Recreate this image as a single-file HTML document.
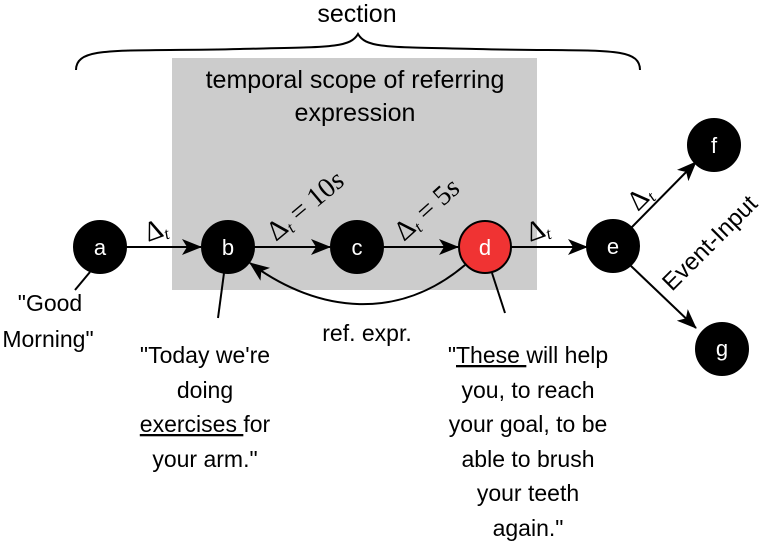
<!DOCTYPE html>
<html><head><meta charset="utf-8"><style>
html,body{margin:0;padding:0;background:#fff;width:769px;height:541px;overflow:hidden}
svg text{font-family:"Liberation Sans",sans-serif}
.m{font-family:"Liberation Serif",serif}
</style></head><body>
<svg width="769" height="541" viewBox="0 0 769 541" xmlns="http://www.w3.org/2000/svg">
<defs>
<marker id="ar" markerWidth="20" markerHeight="16" refX="19" refY="8" orient="auto" markerUnits="userSpaceOnUse" viewBox="0 0 20 16">
<path d="M0,0 L20,8 L0,16 L5,8 z" fill="#000"/></marker>
</defs>
<path d="M172,58 H537 V290 H172 z" fill="#cccccc"/>
<path d="M76,70 C76,45 120,52 240,49 C330,47 350,48 358,34 C366,48 386,47 476,49 C600,52 640,45 640,70" fill="none" stroke="#000" stroke-width="2"/>
<text x="357" y="22" font-size="25" text-anchor="middle">section</text>
<text x="355" y="88" font-size="25" text-anchor="middle">temporal scope of referring</text>
<text x="355" y="121" font-size="25" text-anchor="middle">expression</text>
<g stroke="#000" stroke-width="2.5" fill="none">
<line x1="126" y1="247" x2="201" y2="247" marker-end="url(#ar)" stroke-width="2"/>
<line x1="254" y1="247" x2="330" y2="247" marker-end="url(#ar)" stroke-width="2"/>
<line x1="383" y1="247" x2="458" y2="247" marker-end="url(#ar)" stroke-width="2"/>
<line x1="511" y1="247" x2="587" y2="247" marker-end="url(#ar)" stroke-width="2"/>
<line x1="631" y1="228" x2="696" y2="162" marker-end="url(#ar)" stroke-width="2"/>
<line x1="631" y1="266" x2="696" y2="328" marker-end="url(#ar)" stroke-width="2"/>
<path d="M465,265 C400,320 320,315 250,263" marker-end="url(#ar)" stroke-width="2"/>
<line x1="90" y1="272" x2="75" y2="290" stroke-width="2"/>
<line x1="224" y1="273" x2="218" y2="318" stroke-width="2"/>
<line x1="492" y1="273" x2="505" y2="313" stroke-width="2"/>
</g>
<g stroke="#000" stroke-width="2">
<circle cx="100" cy="247" r="26" fill="#000"/>
<circle cx="228" cy="247" r="26" fill="#000"/>
<circle cx="357" cy="247" r="26" fill="#000"/>
<circle cx="485" cy="247" r="26" fill="#f03333"/>
<circle cx="613" cy="246" r="26" fill="#000"/>
<circle cx="714" cy="145" r="26" fill="#000"/>
<circle cx="722" cy="349" r="26" fill="#000"/>
</g>
<g fill="#fff" font-size="22" text-anchor="middle">
<text x="100" y="255">a</text><text x="228" y="255">b</text><text x="357" y="255">c</text>
<text x="485" y="255">d</text><text x="613" y="254">e</text><text x="714" y="153">f</text><text x="722" y="356">g</text>
</g>
<g font-size="28">
<text class="m" transform="translate(148,242) rotate(-20)">Δ<tspan font-size="17" font-style="italic" dy="4">t</tspan></text>
<text class="m" transform="translate(276,242) rotate(-40)">Δ<tspan font-size="17" font-style="italic" dy="4">t</tspan><tspan dy="-4"> = 10</tspan><tspan font-style="italic">s</tspan></text>
<text class="m" transform="translate(404,242) rotate(-42)">Δ<tspan font-size="17" font-style="italic" dy="4">t</tspan><tspan dy="-4"> = 5</tspan><tspan font-style="italic">s</tspan></text>
<text class="m" transform="translate(530,242) rotate(-20)">Δ<tspan font-size="17" font-style="italic" dy="4">t</tspan></text>
<text class="m" transform="translate(638,212) rotate(-45)">Δ<tspan font-size="17" font-style="italic" dy="4">t</tspan></text>
</g>
<text transform="translate(672,292) rotate(-45)" font-size="24">Event-Input</text>
<g font-size="23" text-anchor="middle">
<text x="50" y="311">"Good</text><text x="48" y="347">Morning"</text>
<text x="205" y="363">"Today we're</text><text x="205" y="398">doing</text>
<text x="205" y="432"><tspan text-decoration="underline">exercises </tspan>for</text>
<text x="205" y="467">your arm."</text>
<text x="367" y="341">ref. expr.</text>
<text x="528" y="363">"<tspan text-decoration="underline">These </tspan>will help</text>
<text x="528" y="398">you, to reach</text><text x="528" y="432">your goal, to be</text>
<text x="528" y="467">able to brush</text><text x="528" y="501">your teeth</text><text x="528" y="536">again."</text>
</g>
</svg>
</body></html>
